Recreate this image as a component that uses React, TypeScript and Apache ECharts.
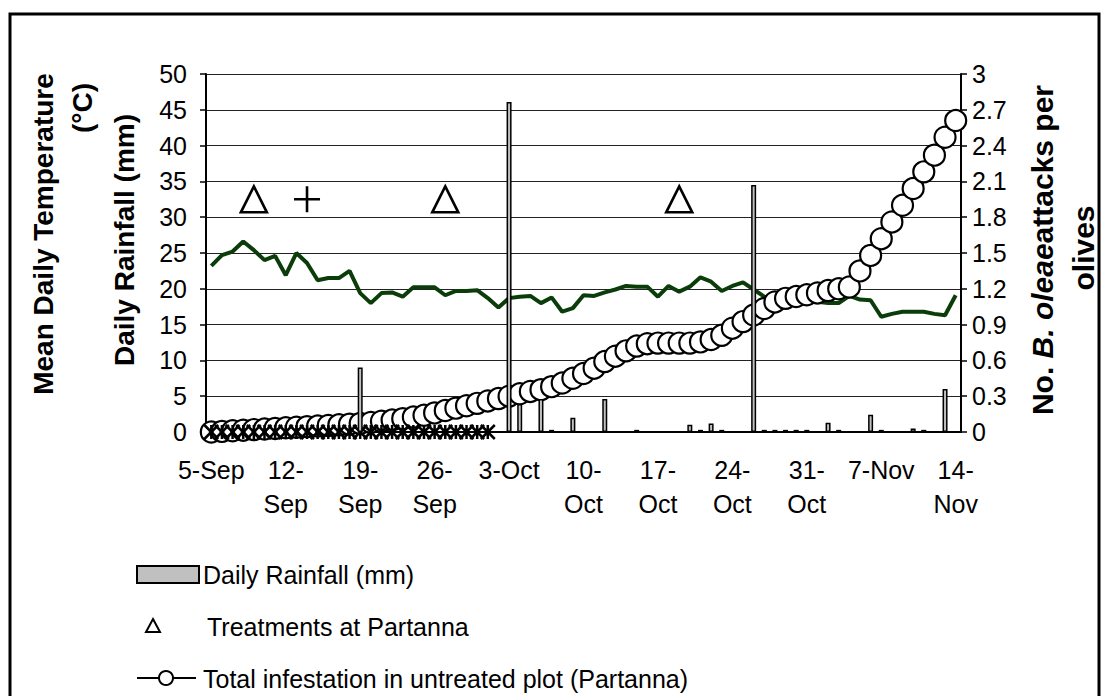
import React, { useEffect, useRef } from "react";
import * as echarts from "echarts";

const days = [
  "5-Sep","6-Sep","7-Sep","8-Sep","9-Sep","10-Sep","11-Sep","12-Sep","13-Sep","14-Sep",
  "15-Sep","16-Sep","17-Sep","18-Sep","19-Sep","20-Sep","21-Sep","22-Sep","23-Sep","24-Sep",
  "25-Sep","26-Sep","27-Sep","28-Sep","29-Sep","30-Sep","1-Oct","2-Oct","3-Oct","4-Oct",
  "5-Oct","6-Oct","7-Oct","8-Oct","9-Oct","10-Oct","11-Oct","12-Oct","13-Oct","14-Oct",
  "15-Oct","16-Oct","17-Oct","18-Oct","19-Oct","20-Oct","21-Oct","22-Oct","23-Oct","24-Oct",
  "25-Oct","26-Oct","27-Oct","28-Oct","29-Oct","30-Oct","31-Oct","1-Nov","2-Nov","3-Nov",
  "4-Nov","5-Nov","6-Nov","7-Nov","8-Nov","9-Nov","10-Nov","11-Nov","12-Nov","13-Nov",
  "14-Nov",
];

const tickLabels = [
  "5-Sep","12-\nSep","19-\nSep","26-\nSep","3-Oct","10-\nOct","17-\nOct","24-\nOct","31-\nOct","7-Nov","14-\nNov",
];

const rainfall = [
  0,0,0,0,0,0,0,0,0,0,
  0,0,0,0,9.0,0,0,0,0,0,
  0,0,0,0,0,0,0,0,46.1,3.9,
  0,4.6,0.3,0,2.0,0,0,4.6,0,0,
  0.3,0,0,0,0,1.0,0.3,1.2,0.3,0,
  0,34.5,0.3,0.3,0.3,0.3,0.3,0,1.3,0.3,
  0,0,2.4,0.3,0,0,0.5,0.3,0,6.0,
  0,
];

const temperature = [
  23.2,24.7,25.2,26.6,25.4,24.0,24.6,21.9,25.0,23.6,
  21.2,21.5,21.5,22.5,19.4,18.0,19.4,19.5,18.9,20.2,
  20.2,20.2,19.1,19.7,19.7,19.8,18.7,17.4,18.7,18.9,
  19.0,18.0,18.8,16.8,17.3,19.1,19.0,19.5,19.9,20.4,
  20.3,20.3,18.9,20.4,19.6,20.3,21.6,21.0,19.7,20.4,
  20.9,19.9,18.9,18.6,18.4,18.2,18.3,18.2,18.0,18.0,
  19.0,18.5,18.4,16.1,16.5,16.8,16.8,16.8,16.5,16.3,
  19.1,
];

const infestation = [
  0,0.005,0.01,0.015,0.02,0.025,0.03,0.035,0.04,0.045,
  0.05,0.055,0.06,0.066,0.072,0.08,0.09,0.1,0.112,0.125,
  0.14,0.16,0.18,0.2,0.22,0.24,0.26,0.28,0.3,0.32,
  0.34,0.355,0.38,0.41,0.45,0.49,0.535,0.59,0.635,0.68,
  0.72,0.74,0.745,0.745,0.745,0.745,0.755,0.775,0.81,0.87,
  0.925,0.98,1.035,1.09,1.12,1.135,1.15,1.165,1.185,1.2,
  1.215,1.35,1.48,1.62,1.76,1.9,2.04,2.18,2.32,2.47,
  2.61,
];

const treatedPlot = [
  0,0,0,0,0,0,0,0,0,0,
  0,0,0,0,0,0,0,0,0,0,
  0,0,0,0,0,0,0,
];

const treatmentDays = ["9-Sep", "27-Sep", "19-Oct"];
const treatmentLevel = [32.5, 32.5, 32.5];
const plusDays = ["14-Sep"];
const plusLevel = [32.5];

const FONT = '"Liberation Sans", Arial, Helvetica, sans-serif';

export default function App() {
  const ref = useRef<HTMLDivElement>(null);

  useEffect(() => {
    document.body.style.margin = "0";
    const chart = echarts.init(ref.current!, null, { renderer: "svg" });

    const option: any = {
      animation: false,
      backgroundColor: "#ffffff",
      grid: { left: 206, right: 148, top: 74, bottom: 264 },
      xAxis: {
        type: "category",
        data: days,
        boundaryGap: true,
        axisLine: { lineStyle: { color: "#000", width: 2 } },
        axisTick: { interval: 6, length: 6, lineStyle: { color: "#000", width: 1.5 } },
        axisLabel: {
          interval: 6,
          formatter: (_v: string, i: number) => tickLabels[Math.round(i / 7)] ?? "",
          fontSize: 25,
          fontFamily: FONT,
          color: "#000",
          lineHeight: 34,
          margin: 21,
        },
      },
      yAxis: [
        {
          type: "value",
          min: 0,
          max: 50,
          interval: 5,
          axisLine: { show: true, lineStyle: { color: "#000", width: 2 } },
          axisTick: { show: true, length: 6, lineStyle: { color: "#000", width: 1.5 } },
          axisLabel: { fontSize: 25, fontFamily: FONT, color: "#000", margin: 19 },
          splitLine: { show: true, lineStyle: { color: "#222", width: 1 } },
        },
        {
          type: "value",
          min: 0,
          max: 3,
          interval: 0.3,
          position: "right",
          axisLine: { show: true, lineStyle: { color: "#000", width: 2 } },
          axisTick: { show: true, length: 6, lineStyle: { color: "#000", width: 1.5 } },
          axisLabel: {
            fontSize: 25,
            fontFamily: FONT,
            color: "#000",
            margin: 11,
            formatter: (v: number) => String(Number(v.toFixed(1))),
          },
          splitLine: { show: false },
        },
      ],
      series: [
        {
          name: "Mean Daily Temperature",
          type: "line",
          yAxisIndex: 0,
          data: temperature,
          symbol: "none",
          lineStyle: { color: "#0b3d0b", width: 4 },
          z: 3,
        },
        {
          name: "Total infestation in untreated plot (Partanna)",
          type: "line",
          yAxisIndex: 1,
          data: infestation,
          symbol: "circle",
          symbolSize: 21,
          showAllSymbol: true,
          lineStyle: { color: "#000", width: 1.5 },
          itemStyle: { color: "#fff", borderColor: "#000", borderWidth: 2.2 },
          z: 4,
        },
        {
          name: "Treated plot",
          type: "scatter",
          yAxisIndex: 1,
          data: treatedPlot,
          symbol: "path://M0,0 L10,10 M10,0 L0,10 M5,0 L5,10",
          symbolSize: 14,
          itemStyle: { color: "none", borderColor: "#000", borderWidth: 2.5, opacity: 1 },
          z: 6,
        },
        {
          name: "Daily Rainfall (mm)",
          type: "bar",
          yAxisIndex: 0,
          data: rainfall,
          barWidth: 5,
          itemStyle: { color: "#c0c0c0", borderColor: "#000", borderWidth: 1.5 },
          z: 8,
        },
        {
          name: "Treatments at Partanna",
          type: "scatter",
          yAxisIndex: 0,
          data: treatmentDays.map((d, i) => [d, treatmentLevel[i]]),
          symbol: "path://M13,0 L26,26 L0,26 Z",
          symbolSize: [26, 26],
          itemStyle: { color: "none", borderColor: "#000", borderWidth: 2.6, opacity: 1 },
          z: 7,
        },
        {
          name: "Other treatment",
          type: "scatter",
          yAxisIndex: 0,
          data: plusDays.map((d, i) => [d, plusLevel[i]]),
          symbol: "path://M13,0 L13,26 M0,13 L26,13",
          symbolSize: [26, 26],
          itemStyle: { color: "none", borderColor: "#000", borderWidth: 2.6, opacity: 1 },
          z: 7,
        },
      ],
      graphic: [
        {
          type: "rect",
          shape: { x: 10, y: 14, width: 1089, height: 700 },
          style: { fill: "none", stroke: "#000", lineWidth: 3 },
          silent: true,
        },
        {
          type: "text",
          x: 43,
          y: 234,
          rotation: Math.PI / 2,
          style: {
            text: "Mean Daily Temperature",
            font: `bold 28px ${FONT}`,
            fill: "#000",
            align: "center",
            verticalAlign: "middle",
          },
        },
        {
          type: "text",
          x: 82,
          y: 108,
          rotation: Math.PI / 2,
          style: {
            text: "(°C)",
            font: `bold 28px ${FONT}`,
            fill: "#000",
            align: "center",
            verticalAlign: "middle",
          },
        },
        {
          type: "text",
          x: 124,
          y: 240,
          rotation: Math.PI / 2,
          style: {
            text: "Daily Rainfall (mm)",
            font: `bold 28px ${FONT}`,
            fill: "#000",
            align: "center",
            verticalAlign: "middle",
          },
        },
        {
          type: "text",
          x: 1042,
          y: 250,
          rotation: Math.PI / 2,
          style: {
            text: "{b|No. }{i|B. oleae}{b|attacks per}",
            rich: {
              b: { font: `bold 30px ${FONT}`, fill: "#000" },
              i: { font: `italic bold 30px ${FONT}`, fill: "#000" },
            },
            align: "center",
            verticalAlign: "middle",
          },
        },
        {
          type: "text",
          x: 1083,
          y: 248,
          rotation: Math.PI / 2,
          style: {
            text: "olives",
            font: `bold 30px ${FONT}`,
            fill: "#000",
            align: "center",
            verticalAlign: "middle",
          },
        },
        {
          type: "rect",
          shape: { x: 137, y: 566, width: 62, height: 17 },
          style: { fill: "#c0c0c0", stroke: "#000", lineWidth: 2 },
        },
        {
          type: "text",
          x: 203,
          y: 575,
          style: {
            text: "Daily Rainfall (mm)",
            font: `25px ${FONT}`,
            fill: "#000",
            align: "left",
            verticalAlign: "middle",
          },
        },
        {
          type: "polygon",
          shape: { points: [[153, 619], [160, 632], [146, 632]] },
          style: { fill: "none", stroke: "#000", lineWidth: 2 },
        },
        {
          type: "text",
          x: 207,
          y: 627,
          style: {
            text: "Treatments at Partanna",
            font: `25px ${FONT}`,
            fill: "#000",
            align: "left",
            verticalAlign: "middle",
          },
        },
        {
          type: "line",
          shape: { x1: 137, y1: 678, x2: 196, y2: 678 },
          style: { stroke: "#000", lineWidth: 2 },
        },
        {
          type: "circle",
          shape: { cx: 166, cy: 678, r: 7 },
          style: { fill: "#fff", stroke: "#000", lineWidth: 2 },
        },
        {
          type: "text",
          x: 203,
          y: 679,
          style: {
            text: "Total infestation in untreated plot (Partanna)",
            font: `25px ${FONT}`,
            fill: "#000",
            align: "left",
            verticalAlign: "middle",
          },
        },
      ],
    };

    chart.setOption(option);
    return () => chart.dispose();
  }, []);

  return <div ref={ref} style={{ width: 1109, height: 696 }} />;
}
